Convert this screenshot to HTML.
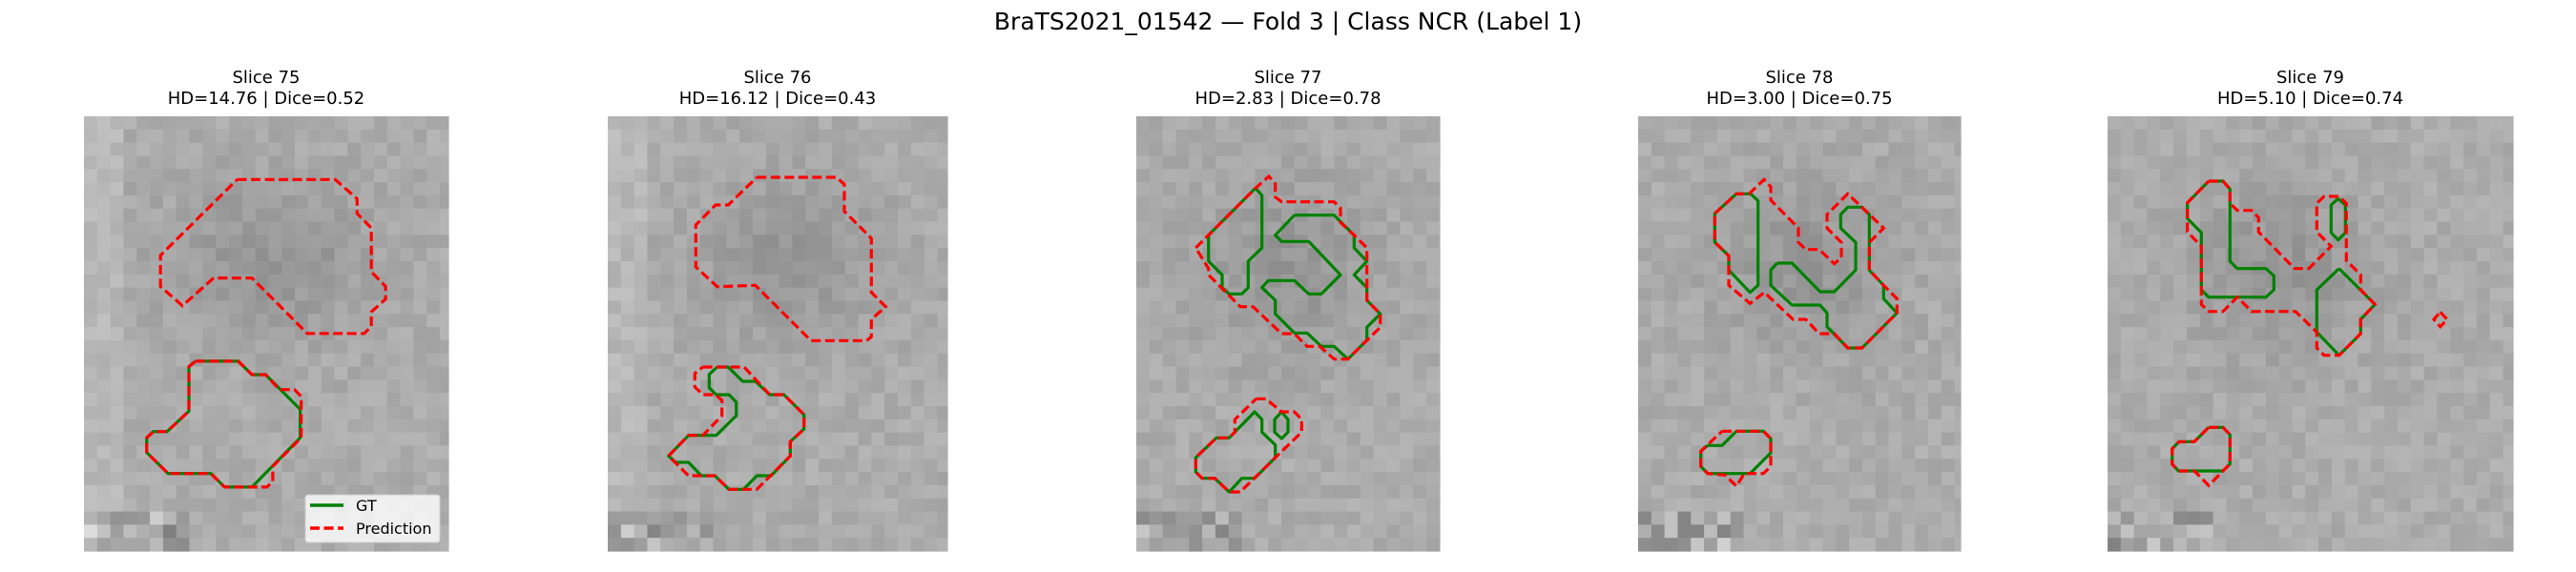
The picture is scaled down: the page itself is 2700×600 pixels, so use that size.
<!DOCTYPE html>
<html><head><meta charset="utf-8">
<style>
html,body{margin:0;padding:0;background:#fff;}
svg{display:block;}
text{font-family:"DejaVu Sans","Liberation Sans",sans-serif;fill:#000;}
</style></head>
<body>
<svg id="fig" width="2700" height="600" viewBox="0 0 2700 600" xmlns="http://www.w3.org/2000/svg">
<text x="1350" y="31" text-anchor="middle" font-size="25">BraTS2021_01542 — Fold 3 | Class NCR (Label 1)</text>
<g id="panels"></g>
</svg>
<script>
const slices = [75, 76, 77, 78, 79];
const hdValues = ["14.76", "16.12", "2.83", "3.00", "5.10"];
const diceValues = ["0.52", "0.43", "0.78", "0.75", "0.74"];
const panelRects = [[88,122,470,578],[637,122,993,578],[1191,122,1509,578],[1717,122,2055,578],[2209,122,2634,578]];
// contour vertices (measured in magnified crops; frame maps to figure px)
const frames = [[0,0,1.742,2.613],[620,100,3,3],[1100,100,3,3],[1700,100,3,3],[2200,100,3,3]];
const gtContours = [
 [[[357,990],[435,990],[460,1027],[485,1027],[548,1122],[548,1200],[460,1335],[410,1335],[385,1298],[307,1298],[268,1240],[268,1200],[280,1183],[305,1183],[345,1127],[345,1005],[357,990]]],
 [[[395,855],[430,855],[475,900],[515,900],[560,942],[605,942],[668,1005],[668,1050],[625,1090],[625,1135],[565,1197],[520,1197],[478,1240],[432,1240],[388,1197],[345,1197],[305,1155],[265,1155],[242,1135],[305,1070],[392,1070],[455,1008],[455,965],[432,942],[392,942],[370,920],[370,878],[395,855]]],
 [[[648,292],[668,315],[668,480],[625,522],[625,605],[605,625],[565,625],[543,605],[543,565],[500,522],[500,440],[648,292]],
  [[770,377],[895,377],[958,440],[958,480],[998,522],[958,565],[998,605],[998,645],[1040,688],[998,730],[998,770],[938,830],[895,790],[855,790],[810,748],[770,748],[710,688],[710,645],[668,605],[688,583],[770,583],[815,625],[855,625],[915,565],[815,460],[730,460],[710,440],[770,377]],
  [[583,1060],[645,996],[668,1020],[668,1060],[710,1100],[710,1140],[645,1205],[605,1205],[565,1248],[520,1205],[480,1205],[460,1185],[460,1140],[525,1078],[565,1078],[583,1060]],
  [[730,996],[750,1020],[750,1060],[730,1080],[708,1060],[708,1020],[730,996]]],
 [[[360,310],[405,310],[428,332],[428,598],[403,620],[336,550],[336,505],[292,462],[292,372],[360,310]],
  [[488,528],[535,528],[623,618],[668,618],[735,550],[735,463],[688,418],[688,375],[710,352],[755,352],[778,375],[778,550],[823,598],[823,640],[865,685],[755,795],[710,795],[645,728],[645,685],[623,660],[535,660],[468,598],[468,550],[488,528]],
  [[360,1057],[445,1057],[468,1080],[468,1125],[403,1190],[270,1190],[248,1168],[248,1120],[270,1102],[315,1102],[360,1057]]],
 [[[345,270],[390,270],[412,295],[412,522],[435,545],[525,545],[550,568],[550,612],[525,635],[345,635],[322,612],[322,432],[278,388],[278,338],[345,270]],
  [[752,325],[775,345],[775,432],[752,455],[730,432],[730,345],[752,325]],
  [[755,545],[868,658],[823,705],[823,750],[755,818],[685,745],[685,612],[755,545]],
  [[345,1045],[390,1045],[412,1068],[412,1160],[390,1182],[250,1182],[230,1160],[230,1112],[252,1090],[300,1090],[345,1045]]]
];
const predContours = [
 [[[433,492],[612,492],[652,545],[652,585],[678,625],[678,745],[704,785],[704,820],[678,855],[678,895],[665,914],[561,914],[460,762],[390,762],[333,838],[293,785],[293,700],[433,492]],
  [[357,990],[435,990],[460,1027],[485,1027],[510,1068],[538,1068],[550,1087],[550,1200],[498,1278],[498,1320],[487,1335],[410,1335],[385,1298],[307,1298],[268,1240],[268,1200],[280,1183],[305,1183],[345,1127],[345,1005],[357,990]]],
 [[[520,258],[770,258],[795,280],[795,365],[880,450],[880,620],[925,665],[880,705],[880,760],[865,772],[690,772],[515,598],[395,602],[328,540],[328,408],[390,345],[430,345],[520,258]],
  [[350,855],[480,855],[560,942],[605,942],[668,1005],[668,1050],[625,1090],[625,1135],[520,1240],[432,1240],[388,1197],[305,1197],[242,1135],[305,1070],[350,1070],[410,1008],[410,960],[390,942],[350,942],[325,918],[325,875],[350,855]]],
 [[[460,480],[648,292],[690,255],[710,278],[710,320],[730,335],[895,335],[915,355],[915,400],[958,440],[998,480],[998,645],[1040,688],[1040,730],[938,830],[895,830],[850,790],[810,790],[770,750],[730,750],[640,665],[600,665],[500,565],[500,545],[460,480]],
  [[650,955],[680,955],[730,996],[770,996],[793,1020],[793,1060],[705,1145],[600,1248],[565,1248],[520,1205],[480,1205],[460,1185],[460,1140],[525,1078],[565,1078],[583,1060],[583,1020],[650,955]]],
 [[[292,372],[360,310],[400,310],[447,265],[468,288],[468,330],[555,418],[555,463],[578,485],[620,485],[668,530],[690,510],[690,463],[645,418],[645,375],[710,310],[823,418],[778,463],[778,550],[823,598],[865,640],[865,685],[755,795],[710,795],[668,750],[620,750],[578,705],[538,705],[448,620],[403,655],[336,598],[336,505],[292,462],[292,372]],
  [[315,1057],[445,1057],[468,1080],[468,1168],[445,1190],[385,1190],[360,1230],[325,1195],[270,1190],[248,1168],[248,1120],[315,1057]]],
 [[[345,270],[390,270],[412,295],[412,340],[435,362],[480,362],[502,385],[502,430],[615,545],[660,545],[730,475],[685,430],[685,340],[708,318],[755,318],[778,340],[778,520],[823,565],[823,612],[868,658],[823,705],[823,750],[755,818],[708,818],[685,795],[685,745],[618,680],[480,680],[435,635],[390,680],[345,680],[322,658],[322,475],[278,430],[278,338],[345,270]],
  [[1073,682],[1095,705],[1073,728],[1053,705],[1073,682]],
  [[345,1045],[390,1045],[412,1068],[412,1160],[390,1182],[345,1228],[300,1182],[250,1182],[230,1160],[230,1112],[252,1090],[300,1090],[345,1045]]]
];
const NS = "http://www.w3.org/2000/svg";
const root = document.getElementById('panels');
function mk(tag, attrs){const e=document.createElementNS(NS,tag);for(const k in attrs)e.setAttribute(k,attrs[k]);return e;}
function hash(a,b,c){let h=(a*374761393+b*668265263+c*2147483647)|0;h=(h^(h>>>13))*1274126177|0;h=h^(h>>>16);return ((h>>>0)%1000)/1000;}
function px(p,i){const f=frames[p];return [f[0]+i[0]/f[2], f[1]+i[1]/f[3]];}
function pathD(p,pts){return pts.map((q,i)=>{const a=px(p,q);return (i?'L':'M')+a[0].toFixed(1)+' '+a[1].toFixed(1);}).join(' ');}
slices.forEach((s,p)=>{
  const r=panelRects[p];
  const g=mk('g',{});
  
  
  root.appendChild(g);
  const cx=(r[0]+r[2])/2;
  const t1=mk('text',{x:cx,y:87,'text-anchor':'middle','font-size':'18'});
  t1.textContent='Slice '+s;
  
  
  g.appendChild(t1);
  const t2=mk('text',{x:cx,y:109,'text-anchor':'middle','font-size':'18'});
  t2.textContent='HD='+hdValues[p]+' | Dice='+diceValues[p];
  
  
  g.appendChild(t2);
  const img=mk('g',{});
  
  
  g.appendChild(img);
  const H=r[3]-r[1], W=r[2]-r[0], cs=H/33, nc=Math.ceil(W/cs);
  const up=predContours[p][0].map(q=>px(p,q));
  const bx0=Math.min(...up.map(a=>a[0])),bx1=Math.max(...up.map(a=>a[0])),by0=Math.min(...up.map(a=>a[1])),by1=Math.max(...up.map(a=>a[1]));
  const bcx=(bx0+bx1)/2,bcy=(by0+by1)/2,brx=(bx1-bx0)/2+20,bry=(by1-by0)/2+25;
  let cells='';
  for(let j=0;j<33;j++)for(let i=0;i<nc;i++){
    const x=r[0]+i*cs,y=r[1]+j*cs,w=Math.min(cs,r[2]-x);
    let v=172+(hash(i,j,p+1)-0.5)*20;
    const mx=x+cs/2,my=y+cs/2;
    const d=((mx-bcx)/brx)**2+((my-bcy)/bry)**2;
    v-=22*Math.exp(-d*1.6);
    if(i<3&&p<2)v+=12;
    if(j>=30&&i<8)v+=(hash(i,j,p+7)-0.6)*70;
    v=Math.max(90,Math.min(220,Math.round(v)));
    cells+=`<rect x="${x.toFixed(2)}" y="${y.toFixed(2)}" width="${(w+0.6).toFixed(2)}" height="${(cs+0.6).toFixed(2)}" fill="rgb(${v},${v},${v})"/>`;
  }
  img.innerHTML=cells;
  gtContours[p].forEach(c=>{
    const e=mk('path',{d:pathD(p,c),fill:'none',stroke:'#008000','stroke-width':'3.2','stroke-linejoin':'round'});
    
    
    g.appendChild(e);
  });
  predContours[p].forEach(c=>{
    const e=mk('path',{d:pathD(p,c),fill:'none',stroke:'#ff0000','stroke-width':'3.2','stroke-dasharray':'10 4.5'});
    
    
    g.appendChild(e);
  });
});
</script>
<svg style="position:absolute;left:0;top:0" width="2700" height="600">
<g>
<rect x="320" y="519" width="141" height="50" rx="3" fill="#ffffff" fill-opacity="0.8" stroke="#cccccc" stroke-width="1"/>
<line x1="325" y1="530" x2="360" y2="530" stroke="#008000" stroke-width="3.5"/>
<text x="373" y="536" font-size="16">GT</text>
<line x1="325" y1="554" x2="360" y2="554" stroke="#ff0000" stroke-width="3.5" stroke-dasharray="10 4.5"/>
<text x="373" y="560" font-size="16">Prediction</text>
</g>
</svg>
</body></html>
